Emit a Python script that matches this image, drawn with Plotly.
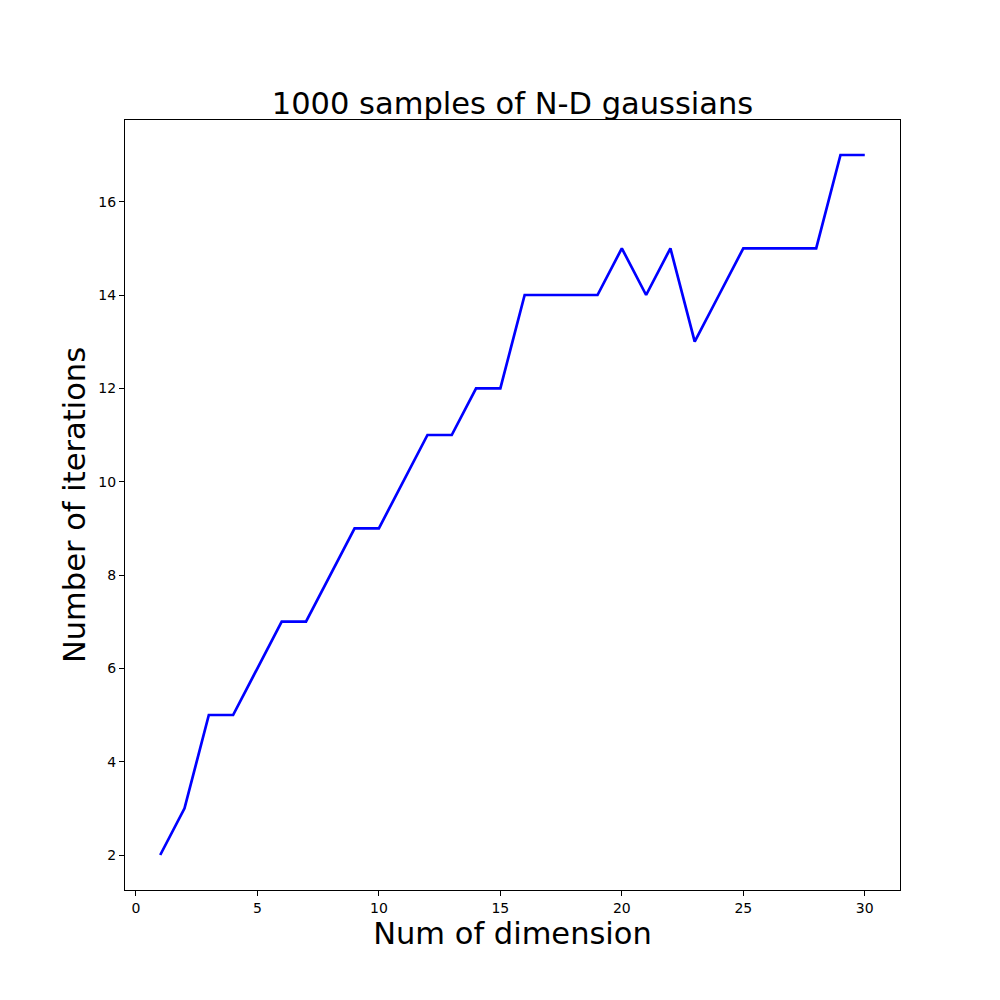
import plotly.graph_objects as go

dims = list(range(1, 31))
iterations = [2, 3, 5, 5, 6, 7, 7, 8, 9, 9, 10, 11, 11, 12, 12, 14, 14, 14, 14, 15,
              14, 15, 13, 14, 15, 15, 15, 15, 17, 17]
x_ticks = [0, 5, 10, 15, 20, 25, 30]
y_ticks = [2, 4, 6, 8, 10, 12, 14, 16]

fig = go.Figure()
fig.add_trace(go.Scatter(x=dims, y=iterations, mode="lines",
                         line=dict(color="#0000ff", width=2.7)))

font = "DejaVu Sans, sans-serif"
fig.update_layout(
    width=1000, height=1000,
    margin=dict(l=117, r=108, t=112, b=118),
    paper_bgcolor="white", plot_bgcolor="white",
    showlegend=False,
    font=dict(family=font, color="black", size=14),
    title=dict(text="1000 samples of N-D gaussians", x=0.5045, xanchor="center",
               y=1 - 95 / 1000, yanchor="middle",
               font=dict(size=30.5, family=font, color="black")),
)
fig.update_xaxes(range=[-0.45, 31.45], tickvals=x_ticks, ticks="outside", ticklen=5,
                 tickcolor="black", showgrid=False, zeroline=False,
                 showline=True, linecolor="black", linewidth=1, mirror=True,
                 tickfont=dict(size=14),
                 title=dict(text="Num of dimension", font=dict(size=30.5), standoff=7))
fig.update_yaxes(range=[1.25, 17.75], tickvals=y_ticks, ticks="outside", ticklen=5,
                 tickcolor="black", showgrid=False, zeroline=False,
                 showline=True, linecolor="black", linewidth=1, mirror=True,
                 tickfont=dict(size=14),
                 title=dict(text="Number of iterations", font=dict(size=30.5), standoff=3))

fig.write_html("out.html")
